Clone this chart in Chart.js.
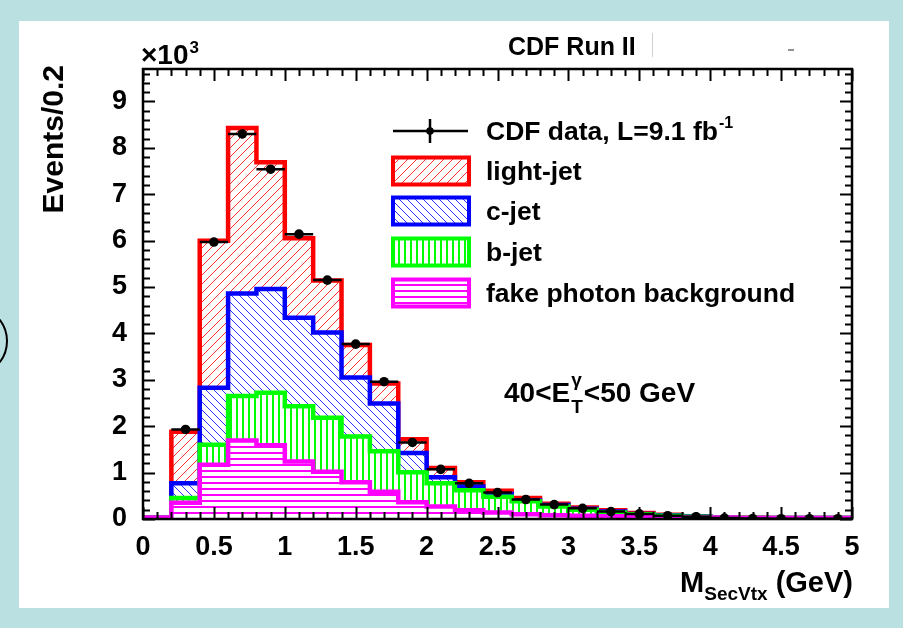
<!DOCTYPE html>
<html>
<head>
<meta charset="utf-8">
<script src="https://cdn.jsdelivr.net/npm/chart.js@4.4.1/dist/chart.umd.min.js"></script>
<style>
html,body{margin:0;padding:0;width:903px;height:628px;overflow:hidden;background:#bbe0e2}
#c{position:absolute;left:0;top:0}
</style>
</head>
<body>
<canvas id="c" width="903" height="628"></canvas>
<script>
// ---- data (values in units of 10^3 events per 0.2 GeV) ----
const binEdges = [0,0.2,0.4,0.6,0.8,1.0,1.2,1.4,1.6,1.8,2.0,2.2,2.4,2.6,2.8,3.0,3.2,3.4,3.6,3.8,4.0,4.2,4.4,4.6,4.8,5.0];
const fakePhoton = [0.03,0.35,1.17,1.69,1.59,1.24,1.02,0.79,0.59,0.36,0.27,0.19,0.14,0.10,0.08,0.07,0.06,0.05,0.04,0.03,0.03,0.02,0.02,0.02,0.02];
const bJet       = [0,0.10,0.43,0.96,1.13,1.19,1.16,0.99,0.87,0.65,0.50,0.43,0.34,0.28,0.19,0.13,0.08,0.05,0.03,0.02,0,0,0,0,0];
const cJet       = [0,0.32,1.23,2.21,2.24,1.91,1.84,1.27,1.03,0.41,0.13,0.08,0.06,0.02,0.03,0.02,0.02,0.01,0.01,0.005,0.005,0,0,0,0];
const lightJet   = [0,1.11,3.17,3.57,2.73,1.71,1.12,0.70,0.43,0.30,0.20,0.09,0.07,0.05,0.03,0.03,0.03,0.02,0.01,0.005,0.005,0.005,0,0,0];
const cdfData    = [null,1.93,5.97,8.30,7.54,6.14,5.15,3.77,2.96,1.65,1.07,0.77,0.57,0.42,0.31,0.23,0.16,0.11,0.07,0.05,0.02,0.01,0.005,0.005,0.005];
const xTicks = [0,0.5,1,1.5,2,2.5,3,3.5,4,4.5,5];
const yTicks = [0,1,2,3,4,5,6,7,8,9];
const legendLabels = ['CDF data, L=9.1 fb','light-jet','c-jet','b-jet','fake photon background'];

// ---- build stacks ----
const nb = binEdges.length - 1;
const stackFake = fakePhoton.slice();
const stackB = stackFake.map((v,i)=>v + bJet[i]);
const stackC = stackB.map((v,i)=>v + cJet[i]);
const stackL = stackC.map((v,i)=>v + lightJet[i]);
function stepPoints(vals){
  const pts = [];
  for (let i=0;i<nb;i++) pts.push({x:binEdges[i], y:vals[i]});
  pts.push({x:binEdges[nb], y:vals[nb-1]});
  return pts;
}
const dataPts = [];
for (let i=0;i<nb;i++) if (cdfData[i]!=null) dataPts.push({x:(binEdges[i]+binEdges[i+1])/2, y:cdfData[i], i});

const FONT = '"Liberation Sans", Arial, Helvetica, sans-serif';
const canvas = document.getElementById('c');
const mainCtx = canvas.getContext('2d');

function makePattern(kind, color, size, lw){
  const c = document.createElement('canvas');
  c.width = size; c.height = size;
  const g = c.getContext('2d');
  g.fillStyle = '#fff'; g.fillRect(0,0,size,size);
  g.strokeStyle = color; g.lineWidth = lw;
  g.beginPath();
  if (kind === 'fwd'){
    g.moveTo(-1,size+1); g.lineTo(size+1,-1);
    g.moveTo(-1,1); g.lineTo(1,-1);
    g.moveTo(size-1,size+1); g.lineTo(size+1,size-1);
  } else if (kind === 'back'){
    g.moveTo(-1,-1); g.lineTo(size+1,size+1);
    g.moveTo(size-1,-1); g.lineTo(size+1,1);
    g.moveTo(-1,size-1); g.lineTo(1,size+1);
  } else if (kind === 'vert'){
    g.moveTo(size/2,0); g.lineTo(size/2,size);
  } else {
    g.moveTo(0,size/2); g.lineTo(size,size/2);
  }
  g.stroke();
  return mainCtx.createPattern(c,'repeat');
}
const patRed = makePattern('fwd','#ff3030',9,1);
const patBlue = makePattern('back','#3030ff',8,1);
const patGreen = makePattern('vert','#00ff00',6,2);
const patMag = makePattern('horz','#ff00ff',6,2);

const RED='#ff0000', BLUE='#0000ff', GREEN='#00ff00', MAG='#ff00ff';
const HW = 4.5;

const bgPlugin = {
  id:'bg',
  beforeDraw(chart){
    const g = chart.ctx;
    g.save();
    g.fillStyle = '#bbe0e2'; g.fillRect(0,0,903,628);
    g.fillStyle = '#ffffff'; g.fillRect(19,21,870,587);
    g.strokeStyle = '#000'; g.lineWidth = 2;
    g.beginPath(); g.arc(-28,341,35,-0.66,0.66); g.stroke();
    g.restore();
  }
};

const errPlugin = {
  id:'err',
  afterDatasetsDraw(chart){
    const g = chart.ctx, xs = chart.scales.x, ys = chart.scales.y, a = chart.chartArea;
    g.save();
    g.beginPath(); g.rect(a.left,a.top,a.right-a.left,a.bottom-a.top); g.clip();
    g.strokeStyle = '#000'; g.lineWidth = 2.5;
    dataPts.forEach(p=>{
      const x0 = xs.getPixelForValue(binEdges[p.i]), x1 = xs.getPixelForValue(binEdges[p.i+1]);
      const py = ys.getPixelForValue(p.y), px = xs.getPixelForValue(p.x);
      const e = Math.sqrt(p.y*1000)/1000;
      g.beginPath();
      g.moveTo(x0,py); g.lineTo(x1,py);
      g.moveTo(px, ys.getPixelForValue(p.y+e)); g.lineTo(px, ys.getPixelForValue(Math.max(0,p.y-e)));
      g.stroke();
    });
    g.restore();
  }
};

const framePlugin = {
  id:'frame',
  afterDraw(chart){
    const g = chart.ctx, xs = chart.scales.x, ys = chart.scales.y, a = chart.chartArea;
    g.save();
    g.strokeStyle = '#000'; g.lineWidth = 2;
    g.beginPath();
    for (let k=0;k<=50;k++){
      const v = k*0.1, px = Math.round(xs.getPixelForValue(v))+0.5;
      const L = (k%5===0) ? 12 : 7;
      g.moveTo(px,a.bottom); g.lineTo(px,a.bottom-L);
      g.moveTo(px,a.top); g.lineTo(px,a.top+L);
    }
    for (let k=0;k<=48;k++){
      const v = k*0.2; if (v > ys.max) break;
      const py = Math.round(ys.getPixelForValue(v))+0.5;
      const L = (k%5===0) ? 12 : 7;
      g.moveTo(a.left,py); g.lineTo(a.left+L,py);
      g.moveTo(a.right,py); g.lineTo(a.right-L,py);
    }
    g.stroke();
    g.lineWidth = 2.5;
    g.strokeRect(a.left,a.top,a.right-a.left,a.bottom-a.top);
    g.restore();
  }
};

function boxRow(g, y, pat, col){
  g.fillStyle = pat; g.fillRect(393,y-13.5,76,27);
  g.strokeStyle = col; g.lineWidth = 4; g.strokeRect(393,y-13.5,76,27);
}

const textPlugin = {
  id:'texts',
  afterDraw(chart){
    const g = chart.ctx;
    g.save();
    g.fillStyle = '#000';
    g.textBaseline = 'alphabetic';
    // title
    g.font = 'bold 25px ' + FONT; g.textAlign = 'left';
    g.fillText('CDF Run II', 508, 55);
    g.strokeStyle = '#d0d0d0'; g.lineWidth = 1;
    g.beginPath(); g.moveTo(652.5,33); g.lineTo(652.5,57); g.stroke();
    g.strokeStyle = '#909090'; g.lineWidth = 2;
    g.beginPath(); g.moveTo(788,50); g.lineTo(794,50); g.stroke();
    // x10^3
    g.font = 'bold 28px ' + FONT;
    g.fillText('\u00d710', 141, 64);
    const w10 = g.measureText('\u00d710').width;
    g.font = 'bold 17px ' + FONT;
    g.fillText('3', 141 + w10 + 1, 53);
    // y title
    g.save();
    g.translate(63,65); g.rotate(-Math.PI/2);
    g.font = 'bold 30px ' + FONT; g.textAlign = 'right';
    g.fillText('Events/0.2', 0, 0);
    g.restore();
    // x title
    g.font = 'bold 29px ' + FONT;
    const wGeV = g.measureText(' (GeV)').width;
    g.font = 'bold 19px ' + FONT;
    const wSub = g.measureText('SecVtx').width;
    g.font = 'bold 29px ' + FONT;
    const wM = g.measureText('M').width;
    const xEnd = 853;
    let xs0 = xEnd - wGeV - wSub - wM;
    g.textAlign = 'left';
    g.fillText('M', xs0, 592);
    g.font = 'bold 19px ' + FONT;
    g.fillText('SecVtx', xs0 + wM, 600);
    g.font = 'bold 29px ' + FONT;
    g.fillText(' (GeV)', xs0 + wM + wSub, 592);
    // energy range
    g.font = 'bold 28px ' + FONT;
    g.fillText('40<E', 504, 402);
    let xe = 504 + g.measureText('40<E').width + 1;
    g.font = 'bold 19px ' + FONT;
    g.fillText('T', xe, 413);
    g.fillText('\u03b3', xe, 386);
    xe += Math.max(g.measureText('T').width, g.measureText('\u03b3').width) + 1;
    g.font = 'bold 28px ' + FONT;
    g.fillText('<50 GeV', xe, 402);
    // legend
    const rows = [131,171,211,252,293];
    g.strokeStyle = '#000'; g.lineWidth = 2.5;
    g.beginPath(); g.moveTo(393,rows[0]); g.lineTo(468,rows[0]);
    g.moveTo(430,rows[0]-12); g.lineTo(430,rows[0]+12); g.stroke();
    g.beginPath(); g.arc(430,rows[0],3.8,0,Math.PI*2); g.fillStyle='#000'; g.fill();
    boxRow(g, rows[1], patRed, RED);
    boxRow(g, rows[2], patBlue, BLUE);
    boxRow(g, rows[3], patGreen, GREEN);
    boxRow(g, rows[4], patMag, MAG);
    g.fillStyle = '#000';
    g.font = 'bold 26.5px ' + FONT; g.textAlign = 'left';
    g.fillText(legendLabels[0], 486, rows[0]+9);
    const wl = g.measureText(legendLabels[0]).width;
    g.font = 'bold 16px ' + FONT;
    g.fillText('-1', 486 + wl + 1, rows[0]-3);
    g.font = 'bold 26.5px ' + FONT;
    for (let k=1;k<5;k++) g.fillText(legendLabels[k], 486, rows[k]+9);
    g.restore();
  }
};

function histDS(label, vals, col, pat){
  return {label, data: stepPoints(vals), stepped: true, borderColor: col, borderWidth: HW,
          backgroundColor: pat, fill: 'origin', pointRadius: 0, pointHoverRadius: 0,
          borderJoinStyle: 'miter', borderCapStyle: 'butt', tension: 0};
}

new Chart(mainCtx, {
  type: 'line',
  data: {
    datasets: [
      {label:'CDF data', data: dataPts, showLine:false, pointRadius:4.8, pointHoverRadius:4.8,
       pointBackgroundColor:'#000', pointBorderColor:'#000', pointBorderWidth:0},
      histDS('fake photon background', stackFake, MAG, patMag),
      histDS('b-jet', stackB, GREEN, patGreen),
      histDS('c-jet', stackC, BLUE, patBlue),
      histDS('light-jet', stackL, RED, patRed)
    ]
  },
  options: {
    responsive: false,
    animation: false,
    devicePixelRatio: 1,
    events: [],
    layout: {padding: {left: 0, right: 51, top: 69, bottom: 0}},
    plugins: {legend: {display: false}, tooltip: {enabled: false}, title: {display: false}},
    scales: {
      x: {
        type: 'linear', min: 0, max: 5,
        grid: {display: false, drawTicks: false}, border: {display: false},
        afterBuildTicks: s => { s.ticks = xTicks.map(v => ({value: v})); },
        afterFit: s => { s.height = 109; },
        ticks: {color: '#000', font: {family: FONT, size: 27, weight: 'bold'}, padding: 12,
                maxRotation: 0, autoSkip: false, callback: v => String(v)}
      },
      y: {
        type: 'linear', min: 0, max: 9.7,
        grid: {display: false, drawTicks: false}, border: {display: false},
        afterBuildTicks: s => { s.ticks = yTicks.map(v => ({value: v})); },
        afterFit: s => { s.width = 143; },
        ticks: {color: '#000', font: {family: FONT, size: 27, weight: 'bold'}, padding: 16,
                autoSkip: false, callback: v => String(v)}
      }
    }
  },
  plugins: [bgPlugin, errPlugin, framePlugin, textPlugin]
});
</script>
</body>
</html>
